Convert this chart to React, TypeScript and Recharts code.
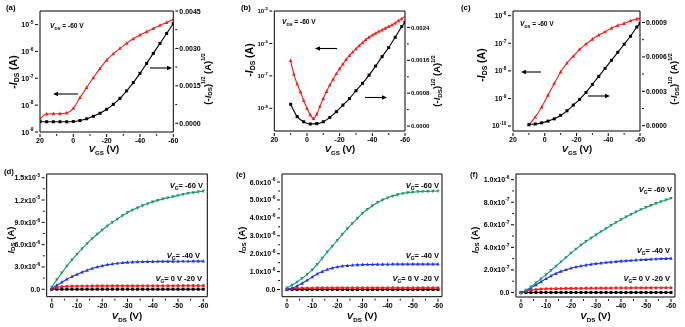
import React from "react";
import { ComposedChart, Line, XAxis, YAxis } from "recharts";

const FONT = '"Liberation Sans", Arial, Helvetica, sans-serif';
const W = 685;
const H = 327;

// ================= DATA =================
// (a) transfer curve, VDS = -60 V
const aVgs = [20, 16, 12, 8, 4, 0, -4, -8, -12, -16, -20, -24, -28, -32, -36, -40, -44, -48, -52, -56, -60];
const aRedIds = [3.0e-9, 4.7e-9, 4.8e-9, 4.8e-9, 5.1e-9, 7.6e-9, 1.9e-8, 4.5e-8, 1.05e-7, 2.3e-7, 4.7e-7, 8.1e-7, 1.3e-6, 2.0e-6, 2.95e-6, 4.1e-6, 5.4e-6, 7.1e-6, 9.3e-6, 1.2e-5, 1.58e-5];
const aBlackSqrt = [0.00006, 0.00006, 0.00006, 0.00006, 0.00006, 0.00007, 0.00011, 0.00018, 0.00028, 0.0004, 0.00056, 0.00076, 0.001, 0.0013, 0.00163, 0.002, 0.0024, 0.0028, 0.0032, 0.0036, 0.004];

// (b)
const bRedVgs = [10, 8, 6, 4, 2, 0, -2, -4, -6, -8, -10, -12, -14, -16, -18, -20, -22, -24, -26, -28, -30, -32, -34, -36, -38, -40, -42, -44, -46, -48, -50, -52, -54, -56, -58, -60];
const bRedIds = [2.95e-7, 1.12e-7, 5.6e-8, 3.2e-8, 1.74e-8, 1.0e-8, 6.3e-9, 4.8e-9, 6.6e-9, 1.15e-8, 2.0e-8, 3.3e-8, 5.2e-8, 7.9e-8, 1.17e-7, 1.66e-7, 2.3e-7, 3.2e-7, 4.2e-7, 5.4e-7, 6.8e-7, 8.5e-7, 1.05e-6, 1.3e-6, 1.55e-6, 1.8e-6, 2.05e-6, 2.35e-6, 2.6e-6, 2.95e-6, 3.3e-6, 3.7e-6, 4.25e-6, 5.0e-6, 5.75e-6, 6.8e-6];
const bBlackVgs = [10, 6, 2, -2, -6, -10, -14, -18, -22, -26, -30, -34, -38, -42, -46, -50, -54, -58, -60];
const bBlackSqrt = [0.00053, 0.00023, 0.000105, 0.00005, 0.00006, 0.000105, 0.00021, 0.00035, 0.00051, 0.00067, 0.00086, 0.00104, 0.00124, 0.00146, 0.00169, 0.00191, 0.00216, 0.00242, 0.00252];

// (c)
const cVgs = [10, 6, 2, -2, -6, -10, -14, -18, -22, -26, -30, -34, -38, -42, -46, -50, -54, -58, -60];
const cRedIds = [1.1e-10, 2.1e-10, 4.8e-10, 1.3e-9, 3.5e-9, 9.1e-9, 1.9e-8, 3.4e-8, 6.0e-8, 9.3e-8, 1.4e-7, 2.0e-7, 2.6e-7, 3.5e-7, 4.4e-7, 5.2e-7, 6.5e-7, 7.6e-7, 8.0e-7];
const cBlackSqrt = [0.00001, 0.000015, 0.000025, 0.00004, 0.00006, 0.00009, 0.00013, 0.00018, 0.00023, 0.00029, 0.00036, 0.00043, 0.0005, 0.00057, 0.00064, 0.00071, 0.00078, 0.00086, 0.00089];

// output curves (d, e, f): VDS steps
const vds = [0, -2, -4, -6, -8, -10, -12, -14, -16, -18, -20, -22, -24, -26, -28, -30, -32, -34, -36, -38, -40, -42, -44, -46, -48, -50, -52, -54, -56, -58, -60];

// (d) currents in units of 1e-6 A
const dUnit = 1e-6;
const dG60 = [0.3, 1.3, 2.2, 3.1, 3.95, 4.7, 5.45, 6.15, 6.8, 7.4, 7.97, 8.5, 9.0, 9.45, 9.9, 10.3, 10.65, 10.95, 11.25, 11.5, 11.75, 11.95, 12.15, 12.3, 12.45, 12.6, 12.75, 12.9, 13.0, 13.1, 13.2];
const dG40 = [0.1, 0.55, 0.95, 1.35, 1.7, 2.0, 2.3, 2.55, 2.8, 3.0, 3.15, 3.3, 3.4, 3.5, 3.57, 3.62, 3.66, 3.69, 3.71, 3.72, 3.73, 3.74, 3.75, 3.75, 3.76, 3.76, 3.77, 3.77, 3.78, 3.78, 3.78];
const dG20 = [0.0, 0.25, 0.35, 0.4, 0.42, 0.43, 0.44, 0.44, 0.45, 0.45, 0.45, 0.45, 0.46, 0.46, 0.46, 0.46, 0.46, 0.46, 0.47, 0.47, 0.47, 0.47, 0.47, 0.47, 0.47, 0.48, 0.48, 0.48, 0.48, 0.48, 0.48];
const dG0 = [0.0, 0.01, 0.01, 0.01, 0.01, 0.01, 0.01, 0.01, 0.01, 0.01, 0.01, 0.01, 0.01, 0.01, 0.01, 0.01, 0.01, 0.01, 0.01, 0.01, 0.01, 0.01, 0.01, 0.01, 0.01, 0.01, 0.01, 0.01, 0.01, 0.01, 0.01];

// (e) currents in units of 1e-6 A
const eUnit = 1e-6;
const eG60 = [0.1, 0.25, 0.42, 0.62, 0.85, 1.1, 1.4, 1.75, 2.1, 2.42, 2.75, 3.08, 3.4, 3.7, 3.98, 4.25, 4.48, 4.68, 4.86, 5.0, 5.12, 5.22, 5.3, 5.36, 5.41, 5.44, 5.46, 5.47, 5.48, 5.49, 5.5];
const eG40 = [0.0, 0.08, 0.2, 0.35, 0.52, 0.7, 0.87, 1.0, 1.12, 1.2, 1.26, 1.31, 1.34, 1.36, 1.38, 1.39, 1.4, 1.4, 1.41, 1.41, 1.41, 1.42, 1.42, 1.42, 1.42, 1.42, 1.42, 1.42, 1.42, 1.42, 1.42];
const eG20 = [0.0, 0.05, 0.07, 0.08, 0.08, 0.08, 0.09, 0.09, 0.09, 0.09, 0.09, 0.09, 0.09, 0.09, 0.09, 0.09, 0.09, 0.09, 0.09, 0.09, 0.09, 0.09, 0.09, 0.09, 0.09, 0.09, 0.09, 0.09, 0.09, 0.09, 0.09];
const eG0 = [0.0, 0.0, 0.0, 0.0, 0.0, 0.0, 0.0, 0.0, 0.0, 0.0, 0.0, 0.0, 0.0, 0.0, 0.0, 0.0, 0.0, 0.0, 0.0, 0.0, 0.0, 0.0, 0.0, 0.0, 0.0, 0.0, 0.0, 0.0, 0.0, 0.0, 0.0];

// (f) currents in units of 1e-7 A
const fUnit = 1e-7;
const fG60 = [-0.1, 0.2, 0.5, 0.85, 1.2, 1.57, 1.95, 2.33, 2.72, 3.1, 3.5, 3.85, 4.2, 4.52, 4.82, 5.1, 5.4, 5.65, 5.95, 6.2, 6.45, 6.7, 6.92, 7.14, 7.35, 7.54, 7.72, 7.89, 8.05, 8.2, 8.35];
const fG40 = [0.0, 0.15, 0.4, 0.68, 0.95, 1.22, 1.47, 1.68, 1.87, 2.02, 2.15, 2.26, 2.35, 2.43, 2.5, 2.56, 2.61, 2.66, 2.7, 2.74, 2.78, 2.81, 2.84, 2.87, 2.9, 2.92, 2.95, 2.97, 2.99, 3.01, 3.03];
const fG20 = [0.0, 0.12, 0.2, 0.26, 0.3, 0.32, 0.33, 0.34, 0.35, 0.36, 0.36, 0.37, 0.37, 0.38, 0.38, 0.38, 0.39, 0.39, 0.39, 0.4, 0.4, 0.4, 0.4, 0.41, 0.41, 0.41, 0.41, 0.42, 0.42, 0.42, 0.42];
const fG0 = [0.0, 0.0, 0.0, 0.0, 0.0, 0.0, 0.0, 0.0, 0.0, 0.0, 0.0, 0.0, 0.0, 0.0, 0.0, 0.0, 0.0, 0.0, 0.0, 0.0, 0.0, 0.0, 0.0, 0.0, 0.0, 0.0, 0.0, 0.0, 0.0, 0.0, 0.0];

// ================= TICKS =================
const vgsMajor = [20, 0, -20, -40, -60];
const vgsMajorLabels = ["20", "0", "-20", "-40", "-60"];
const vgsMinor = [10, -10, -30, -50];

const vdsMajor = [0, -10, -20, -30, -40, -50, -60];
const vdsMajorLabels = ["0", "-10", "-20", "-30", "-40", "-50", "-60"];
const vdsMinor = [-5, -15, -25, -35, -45, -55];

const aLogTicks = [1e-9, 1e-8, 1e-7, 1e-6, 1e-5];
const aLogLabels = ["10^-9", "10^-8", "10^-7", "10^-6", "10^-5"];
const aSqrtTicks = [0, 0.0015, 0.003, 0.0045];
const aSqrtLabels = ["0.0000", "0.0015", "0.0030", "0.0045"];
const aSqrtMinor = [0.00075, 0.00225, 0.00375];

const bLogTicks = [1e-8, 1e-7, 1e-6, 1e-5];
const bLogLabels = ["10^-8", "10^-7", "10^-6", "10^-5"];
const bSqrtTicks = [0, 0.0008, 0.0016, 0.0024];
const bSqrtLabels = ["0.0000", "0.0008", "0.0016", "0.0024"];
const bSqrtMinor = [0.0004, 0.0012, 0.002];

const cLogTicks = [1e-10, 1e-9, 1e-8, 1e-7, 1e-6];
const cLogLabels = ["10^-10", "10^-9", "10^-8", "10^-7", "10^-6"];
const cSqrtTicks = [0, 0.0003, 0.0006, 0.0009];
const cSqrtLabels = ["0.0000", "0.0003", "0.0006", "0.0009"];
const cSqrtMinor = [0.00015, 0.00045, 0.00075];

const dTicks = [0, 3e-6, 6e-6, 9e-6, 1.2e-5, 1.5e-5];
const dTickLabels = ["0.0", "3.0x10^-6", "6.0x10^-6", "9.0x10^-6", "1.2x10^-5", "1.5x10^-5"];
const dMinor = [1.5e-6, 4.5e-6, 7.5e-6, 1.05e-5, 1.35e-5];

const eTicks = [0, 1e-6, 2e-6, 3e-6, 4e-6, 5e-6, 6e-6];
const eTickLabels = ["0.0", "1.0x10^-6", "2.0x10^-6", "3.0x10^-6", "4.0x10^-6", "5.0x10^-6", "6.0x10^-6"];
const eMinor = [0.5e-6, 1.5e-6, 2.5e-6, 3.5e-6, 4.5e-6, 5.5e-6];

const fTicks = [0, 2e-7, 4e-7, 6e-7, 8e-7, 1e-6];
const fTickLabels = ["0.0", "2.0x10^-7", "4.0x10^-7", "6.0x10^-7", "8.0x10^-7", "1.0x10^-6"];
const fMinor = [1e-7, 3e-7, 5e-7, 7e-7, 9e-7];

// ================= COLOURS =================
const RED = "#ff1a1a";
const BLACK = "#000000";
const BLUE = "#2233ee";
const GREEN = "#1b9a6c";

// ================= HELPERS =================
type Pt = { x: number; y: number };
const pts = (xs: number[], ys: number[], k = 1): Pt[] => xs.map((x, i) => ({ x, y: ys[i] * k }));
const labelMap = (vals: number[], labs: string[]) => {
  const m = new Map<number, string>();
  vals.forEach((v, i) => m.set(v, labs[i]));
  return m;
};

type Shape = "square" | "triUp" | "triDown" | "circle";
function makeDot(shape: Shape, color: string, s: number) {
  return (p: any) => {
    const { cx, cy, index } = p;
    const key = `d-${index}`;
    if (cx == null || cy == null || Number.isNaN(cx) || Number.isNaN(cy)) return <g key={key} />;
    if (shape === "square")
      return <rect key={key} x={cx - s / 2} y={cy - s / 2} width={s} height={s} fill={color} />;
    if (shape === "circle") return <circle key={key} cx={cx} cy={cy} r={s / 2} fill={color} />;
    if (shape === "triUp")
      return (
        <polygon
          key={key}
          points={`${cx},${cy - s * 0.6} ${cx - s / 2},${cy + s * 0.4} ${cx + s / 2},${cy + s * 0.4}`}
          fill={color}
        />
      );
    return (
      <polygon
        key={key}
        points={`${cx},${cy + s * 0.6} ${cx - s / 2},${cy - s * 0.4} ${cx + s / 2},${cy - s * 0.4}`}
        fill={color}
      />
    );
  };
}

function SupLabel({ x, y, anchor, label, fs }: { x: number; y: number; anchor: string; label: string; fs: number }) {
  const [base, sup] = label.split("^");
  return (
    <text x={x} y={y} textAnchor={anchor as any} fontSize={fs} fontWeight="bold" fontFamily={FONT} fill="#000">
      <tspan>{base}</tspan>
      {sup !== undefined && (
        <tspan dy={-fs * 0.47} fontSize={fs * 0.7}>
          {sup}
        </tspan>
      )}
    </text>
  );
}

function xTick(labels: Map<number, string>, fs: number) {
  return (p: any) => {
    const { x, y, payload } = p;
    const lab = labels.get(payload.value);
    const len = lab !== undefined ? 3 : 1.8;
    return (
      <g>
        <line x1={x} y1={y} x2={x} y2={y + len} stroke="#000" strokeWidth={1} />
        {lab !== undefined && <SupLabel x={x} y={y + 9} anchor="middle" label={lab} fs={fs} />}
      </g>
    );
  };
}

function yTick(labels: Map<number, string>, side: "left" | "right", fs: number, gap = 4.5) {
  return (p: any) => {
    const { x, y, payload } = p;
    const lab = labels.get(payload.value);
    const len = lab !== undefined ? 3 : 1.8;
    const dir = side === "left" ? -1 : 1;
    return (
      <g>
        <line x1={x} y1={y} x2={x + dir * len} y2={y} stroke="#000" strokeWidth={1} />
        {lab !== undefined && (
          <SupLabel
            x={x + dir * gap}
            y={y + fs * 0.36}
            anchor={side === "left" ? "end" : "start"}
            label={lab}
            fs={fs}
          />
        )}
      </g>
    );
  };
}

type Box = { l: number; r: number; t: number; b: number };
const AX = { stroke: "#000", strokeWidth: 1 };
// axis band sizes (non-zero so that axes render)
const LW = 20;
const RW = 4;
const BH = 8;
const TH = 4;

function Layer({ children }: { children: React.ReactNode }) {
  return <div style={{ position: "absolute", left: 0, top: 0, willChange: "transform" }}>{children}</div>;
}

const marginFor = (box: Box) => ({
  left: box.l - LW,
  right: W - box.r - RW,
  top: box.t - TH,
  bottom: H - box.b - BH,
});

function TopPanel(props: {
  box: Box;
  fs: number;
  logDomain: [number, number];
  logTicks: number[];
  logLabels: string[];
  sqrtDomain: [number, number];
  sqrtTicks: number[];
  sqrtLabels: string[];
  sqrtMinor: number[];
  red: Pt[];
  black: Pt[];
}) {
  const { box, fs } = props;
  const xLabels = labelMap(vgsMajor, vgsMajorLabels);
  const lLabels = labelMap(props.logTicks, props.logLabels);
  const rLabels = labelMap(props.sqrtTicks, props.sqrtLabels);
  return (
    <ComposedChart width={W} height={H} margin={marginFor(box)}>
      <XAxis
        xAxisId="b"
        type="number"
        dataKey="x"
        domain={[-60, 20]}
        reversed
        allowDataOverflow
        ticks={[...vgsMajor, ...vgsMinor]}
        interval={0}
        tickSize={0}
        tickLine={false}
        tick={xTick(xLabels, 7)}
        height={BH}
        axisLine={AX}
      />
      <XAxis
        xAxisId="t"
        orientation="top"
        type="number"
        dataKey="x"
        domain={[-60, 20]}
        reversed
        allowDataOverflow
        tick={false}
        tickLine={false}
        height={TH}
        axisLine={AX}
      />
      <YAxis
        yAxisId="l"
        type="number"
        scale="log"
        domain={props.logDomain}
        allowDataOverflow
        ticks={props.logTicks}
        interval={0}
        tickSize={0}
        tickLine={false}
        tick={yTick(lLabels, "left", fs)}
        width={LW}
        axisLine={AX}
      />
      <YAxis
        yAxisId="r"
        orientation="right"
        type="number"
        domain={props.sqrtDomain}
        allowDataOverflow
        ticks={[...props.sqrtTicks, ...props.sqrtMinor]}
        interval={0}
        tickSize={0}
        tickLine={false}
        tick={yTick(rLabels, "right", fs, 4)}
        width={RW}
        axisLine={AX}
      />
      <Line
        xAxisId="b"
        yAxisId="l"
        data={props.red}
        dataKey="y"
        type="monotone"
        stroke={RED}
        strokeWidth={1.1}
        dot={makeDot("triUp", RED, 3.6)}
        activeDot={false}
        isAnimationActive={false}
      />
      <Line
        xAxisId="b"
        yAxisId="r"
        data={props.black}
        dataKey="y"
        type="monotone"
        stroke={BLACK}
        strokeWidth={1.1}
        dot={makeDot("square", BLACK, 3)}
        activeDot={false}
        isAnimationActive={false}
      />
    </ComposedChart>
  );
}

function BottomPanel(props: {
  box: Box;
  yDomain: [number, number];
  yTicks: number[];
  yLabels: string[];
  yMinor: number[];
  g60: Pt[];
  g40: Pt[];
  g20: Pt[];
  g0: Pt[];
}) {
  const { box } = props;
  const xLabels = labelMap(vdsMajor, vdsMajorLabels);
  const yLabels = labelMap(props.yTicks, props.yLabels);
  const series: { d: Pt[]; c: string; s: Shape; z: number }[] = [
    { d: props.g0, c: BLACK, s: "square", z: 3 },
    { d: props.g20, c: RED, s: "circle", z: 3.2 },
    { d: props.g40, c: BLUE, s: "triUp", z: 3.4 },
    { d: props.g60, c: GREEN, s: "triDown", z: 3.4 },
  ];
  return (
    <ComposedChart width={W} height={H} margin={marginFor(box)}>
      <XAxis
        xAxisId="b"
        type="number"
        dataKey="x"
        domain={[-61.6, 2]}
        reversed
        allowDataOverflow
        ticks={[...vdsMajor, ...vdsMinor]}
        interval={0}
        tickSize={0}
        tickLine={false}
        tick={xTick(xLabels, 7)}
        height={BH}
        axisLine={AX}
      />
      <XAxis
        xAxisId="t"
        orientation="top"
        type="number"
        dataKey="x"
        domain={[-61.6, 2]}
        reversed
        allowDataOverflow
        tick={false}
        tickLine={false}
        height={TH}
        axisLine={AX}
      />
      <YAxis
        yAxisId="l"
        type="number"
        domain={props.yDomain}
        allowDataOverflow
        ticks={[...props.yTicks, ...props.yMinor]}
        interval={0}
        tickSize={0}
        tickLine={false}
        tick={yTick(yLabels, "left", 7)}
        width={LW}
        axisLine={AX}
      />
      <YAxis
        yAxisId="r"
        orientation="right"
        type="number"
        domain={props.yDomain}
        allowDataOverflow
        tick={false}
        tickLine={false}
        width={RW}
        axisLine={AX}
      />
      {series.map((s, i) => (
        <Line
          key={i}
          xAxisId="b"
          yAxisId="l"
          data={s.d}
          dataKey="y"
          type="monotone"
          stroke={s.c}
          strokeWidth={1.1}
          dot={makeDot(s.s, s.c, s.z)}
          activeDot={false}
          isAnimationActive={false}
        />
      ))}
    </ComposedChart>
  );
}

// ================= TEXT OVERLAY =================
const TFS = 9.5;
const SUBFS = 6.2;

function VTitle({ cx, y, sub }: { cx: number; y: number; sub: string }) {
  return (
    <text x={cx} y={y} textAnchor="middle" fontSize={TFS} fontWeight="bold" fontFamily={FONT} fill="#000">
      <tspan fontStyle="italic">V</tspan>
      <tspan dy={2.5} fontSize={SUBFS}>
        {sub}
      </tspan>
      <tspan dy={-2.5}> (V)</tspan>
    </text>
  );
}

function IdsTitle({ cx, cy, minus, fs = TFS }: { cx: number; cy: number; minus: boolean; fs?: number }) {
  return (
    <text
      x={cx}
      y={cy}
      transform={`rotate(-90 ${cx} ${cy})`}
      textAnchor="middle"
      dominantBaseline="middle"
      fontSize={fs}
      fontWeight="bold"
      fontFamily={FONT}
      fill="#000"
    >
      {minus && <tspan>-</tspan>}
      <tspan fontStyle="italic">I</tspan>
      <tspan dy={2.5} fontSize={fs * 0.65}>
        DS
      </tspan>
      <tspan dy={-2.5}> (A)</tspan>
    </text>
  );
}

function SqrtTitle({ cx, cy }: { cx: number; cy: number }) {
  return (
    <text
      x={cx}
      y={cy}
      transform={`rotate(-90 ${cx} ${cy})`}
      textAnchor="middle"
      dominantBaseline="middle"
      fontSize={TFS}
      fontWeight="bold"
      fontFamily={FONT}
      fill="#000"
    >
      <tspan>(-</tspan>
      <tspan fontStyle="italic">I</tspan>
      <tspan dy={2.5} fontSize={SUBFS}>
        DS
      </tspan>
      <tspan dy={-2.5}>)</tspan>
      <tspan dy={-3.5} fontSize={5.3}>
        1/2
      </tspan>
      <tspan dy={3.5}> (A)</tspan>
      <tspan dy={-3.5} fontSize={5.3}>
        1/2
      </tspan>
    </text>
  );
}

function Note({
  x,
  y,
  sub,
  rest,
  anchor,
  fs,
}: {
  x: number;
  y: number;
  sub: string;
  rest: string;
  anchor: string;
  fs: number;
}) {
  return (
    <text x={x} y={y} textAnchor={anchor as any} fontSize={fs} fontWeight="bold" fontFamily={FONT} fill="#000">
      <tspan fontStyle="italic">V</tspan>
      <tspan dy={2} fontSize={fs * 0.66}>
        {sub}
      </tspan>
      <tspan dy={-2}>{rest}</tspan>
    </text>
  );
}

function Arrow({ x1, x2, y }: { x1: number; x2: number; y: number }) {
  const d = x2 > x1 ? -1 : 1;
  return (
    <g>
      <line x1={x1} y1={y} x2={x2 + d * 4} y2={y} stroke="#000" strokeWidth={1.1} />
      <polygon points={`${x2},${y} ${x2 + d * 5},${y - 2.2} ${x2 + d * 5},${y + 2.2}`} fill="#000" />
    </g>
  );
}

function Letter({ x, y, t }: { x: number; y: number; t: string }) {
  return (
    <text x={x} y={y} fontSize={7.8} fontWeight="bold" fontFamily={FONT} fill="#000">
      {t}
    </text>
  );
}

// ================= LAYOUT =================
const boxA: Box = { l: 40, r: 173.3, t: 11, b: 132 };
const boxB: Box = { l: 274.3, r: 405, t: 11, b: 131 };
const boxC: Box = { l: 513, r: 640, t: 11, b: 131 };
const boxD: Box = { l: 46.7, r: 207.3, t: 174, b: 296.7 };
const boxE: Box = { l: 282, r: 442, t: 174, b: 296.7 };
const boxF: Box = { l: 516, r: 675, t: 174, b: 297 };

export default function App() {
  return (
    <div style={{ position: "absolute", left: 0, top: 0, width: W, height: H, background: "#fff", overflow: "hidden" }}>
      <Layer>
        <TopPanel
          box={boxA}
          fs={7}
          logDomain={[1e-9, 3.2e-5]}
          logTicks={aLogTicks}
          logLabels={aLogLabels}
          sqrtDomain={[-0.00035, 0.0045]}
          sqrtTicks={aSqrtTicks}
          sqrtLabels={aSqrtLabels}
          sqrtMinor={aSqrtMinor}
          red={pts(aVgs, aRedIds)}
          black={pts(aVgs, aBlackSqrt)}
        />
      </Layer>
      <Layer>
        <TopPanel
          box={boxB}
          fs={6}
          logDomain={[2e-9, 1e-5]}
          logTicks={bLogTicks}
          logLabels={bLogLabels}
          sqrtDomain={[-0.00012, 0.0028]}
          sqrtTicks={bSqrtTicks}
          sqrtLabels={bSqrtLabels}
          sqrtMinor={bSqrtMinor}
          red={pts(bRedVgs, bRedIds)}
          black={pts(bBlackVgs, bBlackSqrt)}
        />
      </Layer>
      <Layer>
        <TopPanel
          box={boxC}
          fs={6.8}
          logDomain={[6.6e-11, 1.48e-6]}
          logTicks={cLogTicks}
          logLabels={cLogLabels}
          sqrtDomain={[-0.000046, 0.001]}
          sqrtTicks={cSqrtTicks}
          sqrtLabels={cSqrtLabels}
          sqrtMinor={cSqrtMinor}
          red={pts(cVgs, cRedIds)}
          black={pts(cVgs, cBlackSqrt)}
        />
      </Layer>
      <Layer>
        <BottomPanel
          box={boxD}
          yDomain={[-1e-6, 1.55e-5]}
          yTicks={dTicks}
          yLabels={dTickLabels}
          yMinor={dMinor}
          g60={pts(vds, dG60, dUnit)}
          g40={pts(vds, dG40, dUnit)}
          g20={pts(vds, dG20, dUnit)}
          g0={pts(vds, dG0, dUnit)}
        />
      </Layer>
      <Layer>
        <BottomPanel
          box={boxE}
          yDomain={[-0.4e-6, 6.45e-6]}
          yTicks={eTicks}
          yLabels={eTickLabels}
          yMinor={eMinor}
          g60={pts(vds, eG60, eUnit)}
          g40={pts(vds, eG40, eUnit)}
          g20={pts(vds, eG20, eUnit)}
          g0={pts(vds, eG0, eUnit)}
        />
      </Layer>
      <Layer>
        <BottomPanel
          box={boxF}
          yDomain={[-0.4e-7, 1.05e-6]}
          yTicks={fTicks}
          yLabels={fTickLabels}
          yMinor={fMinor}
          g60={pts(vds, fG60, fUnit)}
          g40={pts(vds, fG40, fUnit)}
          g20={pts(vds, fG20, fUnit)}
          g0={pts(vds, fG0, fUnit)}
        />
      </Layer>

      <svg width={W} height={H} style={{ position: "absolute", left: 0, top: 0, willChange: "transform" }}>
        <Letter x={6} y={10} t="(a)" />
        <Letter x={241} y={10} t="(b)" />
        <Letter x={461} y={10} t="(c)" />
        <Letter x={4} y={174} t="(d)" />
        <Letter x={236} y={177} t="(e)" />
        <Letter x={470} y={177} t="(f)" />

        <VTitle cx={104} y={152} sub="GS" />
        <VTitle cx={340} y={152} sub="GS" />
        <VTitle cx={577} y={152} sub="GS" />
        <VTitle cx={127} y={319} sub="DS" />
        <VTitle cx={362} y={319} sub="DS" />
        <VTitle cx={595.5} y={319} sub="DS" />

        <IdsTitle cx={14} cy={72} minus fs={10.5} />
        <IdsTitle cx={250} cy={60} minus fs={10.5} />
        <IdsTitle cx={482} cy={65} minus fs={10.5} />
        <IdsTitle cx={10.5} cy={240} minus={false} />
        <IdsTitle cx={241.5} cy={240} minus={false} />
        <IdsTitle cx={474.5} cy={240} minus={false} />

        <SqrtTitle cx={207.5} cy={79} />
        <SqrtTitle cx={437} cy={81} />
        <SqrtTitle cx={674} cy={79} />

        <Note x={50} y={27.5} sub="DS" rest=" = -60 V" anchor="start" fs={6.6} />
        <Note x={282} y={24} sub="DS" rest=" = -60 V" anchor="start" fs={6.6} />
        <Note x={520} y={26} sub="DS" rest=" = -60 V" anchor="start" fs={6.6} />

        <Note x={203} y={187.5} sub="G" rest="= -60 V" anchor="end" fs={7.5} />
        <Note x={200} y={257.5} sub="G" rest="= -40 V" anchor="end" fs={7.5} />
        <Note x={202} y={281} sub="G" rest="= 0 V -20 V" anchor="end" fs={7.5} />

        <Note x={439} y={187.5} sub="G" rest="= -60 V" anchor="end" fs={7.5} />
        <Note x={439} y={257.5} sub="G" rest="= -40 V" anchor="end" fs={7.5} />
        <Note x={439} y={281} sub="G" rest="= 0 V -20 V" anchor="end" fs={7.5} />

        <Note x={672} y={191.5} sub="G" rest="= -60 V" anchor="end" fs={7.5} />
        <Note x={670} y={252.5} sub="G" rest="= -40 V" anchor="end" fs={7.5} />
        <Note x={670} y={281} sub="G" rest="= 0 V -20 V" anchor="end" fs={7.5} />

        <Arrow x1={78} x2={53} y={94} />
        <Arrow x1={150} x2={172} y={68} />
        <Arrow x1={337} x2={315} y={48.5} />
        <Arrow x1={365} x2={387} y={97.5} />
        <Arrow x1={541} x2={521} y={72} />
        <Arrow x1={588} x2={610} y={96} />
      </svg>
    </div>
  );
}
